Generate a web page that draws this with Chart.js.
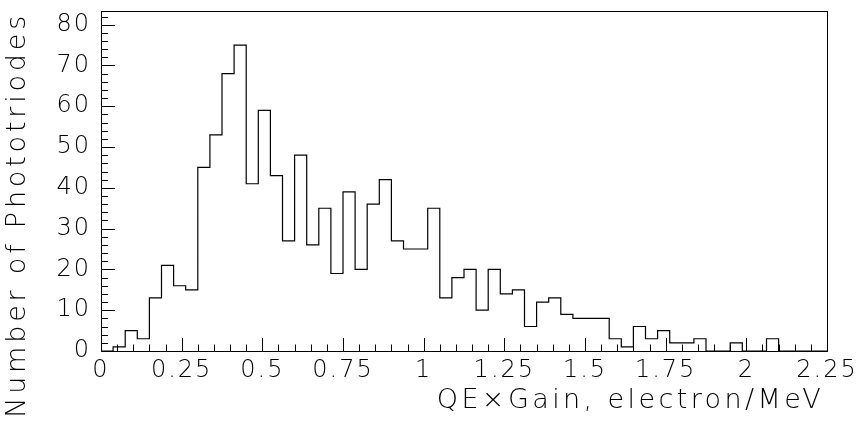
<!DOCTYPE html>
<html>
<head>
<meta charset="utf-8">
<script src="https://cdn.jsdelivr.net/npm/chart.js@4.4.1/dist/chart.umd.min.js"></script>
<style>
  html, body { margin: 0; padding: 0; background: #fff; }
  #wrap { width: 861px; height: 427px; }
</style>
</head>
<body>
<div id="wrap"><canvas id="histo"></canvas></div>
<script>
// --- DATA ---
const binWidth = 0.0375;   // 60 bins over 0..2.25
const counts = [
  0, 1, 5, 3, 13, 21, 16, 15, 45, 53,
  68, 75, 41, 59, 43, 27, 48, 26, 35, 19,
  39, 20, 36, 42, 27, 25, 25, 35, 13, 18,
  20, 10, 20, 14, 15, 6, 12, 13, 9, 8,
  8, 8, 3, 1, 6, 3, 5, 2, 2, 3,
  0, 0, 2, 0, 0, 3, 0, 0, 0, 0
];
const xTickLabels = ['0', '0.25', '0.5', '0.75', '1', '1.25', '1.5', '1.75', '2', '2.25'];
const yTickLabels = ['0', '10', '20', '30', '40', '50', '60', '70', '80'];
const xTitle = 'QE\u00d7Gain, electron/MeV';
const yTitle = 'Number of Phototriodes';

const X_MAX = 2.25;
const Y_MAX = 83.35;
const FONT = "'DejaVu Sans', sans-serif";

// bin edges -> stepped outline points
const points = [];
for (let i = 0; i <= counts.length; i++) {
  points.push({ x: i * binWidth, y: counts[Math.min(i, counts.length - 1)] });
}

// wider letter spacing for the tick labels (reference font is wide)
const spacing = {
  id: 'spacing',
  beforeDraw(chart) { chart.ctx.letterSpacing = '2px'; }
};

// --- frame, inward ticks and axis titles ---
const paFrame = {
  id: 'paFrame',
  afterDraw(chart) {
    const { ctx, chartArea: a, scales: { x, y } } = chart;
    ctx.save();
    ctx.strokeStyle = '#000';
    ctx.lineWidth = 1;
    ctx.strokeRect(Math.round(a.left) + 0.5, Math.round(a.top) + 0.5,
      Math.round(a.right - a.left), Math.round(a.bottom - a.top));

    ctx.beginPath();
    // x ticks: minor every 0.05, major every 0.25
    for (let k = 0; k <= 45; k++) {
      const px = Math.round(x.getPixelForValue(k * 0.05)) + 0.5;
      const len = (k % 5 === 0) ? 13 : 6.5;
      ctx.moveTo(px, a.bottom);
      ctx.lineTo(px, a.bottom - len);
    }
    // y ticks: minor every 2, major every 10
    for (let v = 0; v <= 82; v += 2) {
      const py = Math.round(y.getPixelForValue(v)) + 0.5;
      const len = (v % 10 === 0) ? 14 : 7;
      ctx.moveTo(a.left, py);
      ctx.lineTo(a.left + len, py);
    }
    ctx.stroke();

    ctx.fillStyle = '#000';
    ctx.font = '200 27px ' + FONT;
    ctx.textBaseline = 'alphabetic';
    ctx.textAlign = 'right';
    ctx.letterSpacing = '3.4px';
    ctx.fillText(xTitle, 824, 408);

    ctx.letterSpacing = '3.8px';
    ctx.translate(25, 12);
    ctx.rotate(-Math.PI / 2);
    ctx.fillText(yTitle, 0, 0);
    ctx.restore();
  }
};

new Chart(document.getElementById('histo'), {
  type: 'line',
  data: {
    datasets: [{
      data: points,
      stepped: 'before',
      borderColor: '#000',
      borderWidth: 1.2,
      pointRadius: 0,
      fill: false,
      tension: 0
    }]
  },
  options: {
    responsive: true,
    maintainAspectRatio: false,
    animation: false,
    layout: { padding: { top: 11, right: 34, left: 0, bottom: 0 } },
    plugins: { legend: { display: false }, tooltip: { enabled: false } },
    scales: {
      x: {
        type: 'linear',
        min: 0,
        max: X_MAX,
        grid: { display: false, drawTicks: false },
        border: { display: false },
        afterFit: s => { s.height = 76; s.paddingLeft = 0; s.paddingRight = 0; },
        afterBuildTicks: s => { s.ticks = xTickLabels.map(t => ({ value: parseFloat(t) })); },
        ticks: {
          padding: 5,
          maxRotation: 0,
          autoSkip: false,
          color: '#000',
          font: { family: FONT, size: 24, weight: '200' },
          callback: (v, i) => xTickLabels[i]
        }
      },
      y: {
        type: 'linear',
        min: 0,
        max: Y_MAX,
        grid: { display: false, drawTicks: false },
        border: { display: false },
        afterFit: s => { s.width = 101; s.paddingTop = 0; s.paddingBottom = 0; },
        afterBuildTicks: s => { s.ticks = yTickLabels.map(t => ({ value: parseFloat(t) })); },
        ticks: {
          padding: 10,
          color: '#000',
          font: { family: FONT, size: 24, weight: '200' },
          callback: (v, i) => yTickLabels[i]
        }
      }
    }
  },
  plugins: [spacing, paFrame]
});
</script>
</body>
</html>
